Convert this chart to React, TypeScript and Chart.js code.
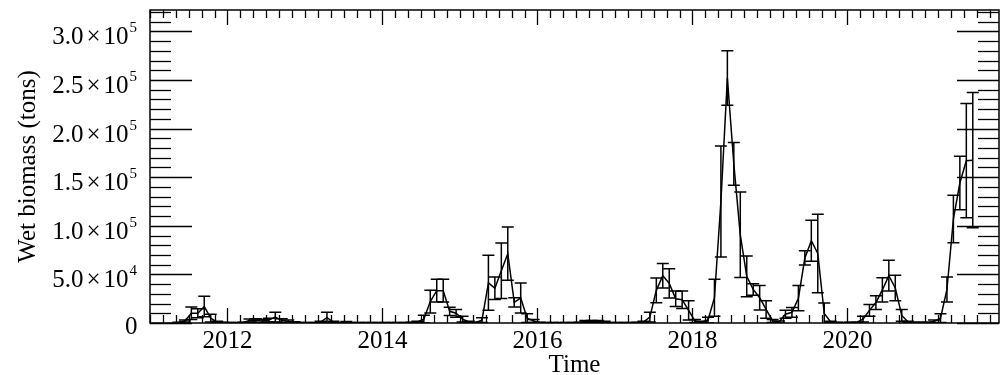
import React, { useEffect, useRef } from 'react';
import { Chart, registerables } from 'chart.js';

Chart.register(...registerables);

// Monthly sampling years (Jan..Dec values, null = no sample)
const years = [2011, 2012, 2013, 2014, 2015, 2016, 2017, 2018, 2019, 2020, 2021];

const biomass2011 = [null, null, null, null, 500, 2000, 10000, 10000, 17000, 5000, 1000, 400];
const sd2011 = [null, null, null, null, 300, 1000, 6500, 4600, 10600, 4000, 800, 300];

const biomass2012 = [300, 300, 500, 2500, 2500, 2000, 3000, 6000, 2500, 1500, 800, 300];
const sd2012 = [200, 200, 400, 1500, 2000, 1500, 2000, 5000, 2000, 1500, 600, 200];

const biomass2013 = [300, 300, 1000, 5500, 1000, 300, 1000, 300, 300, 300, 300, 300];
const sd2013 = [200, 200, 800, 5500, 800, 200, 500, 200, 200, 200, 200, 200];

const biomass2014 = [300, 300, 300, 300, 500, 1000, 4000, 22000, 33300, 33300, 12000, 10000];
const sd2014 = [200, 200, 200, 200, 400, 800, 4000, 11700, 11700, 11700, 4300, 4000];

const biomass2015 = [4000, 1000, 500, 3000, 41300, 35800, 53700, 71300, 21300, 25700, 5000, 2000];
const sd2015 = [3000, 800, 400, 2500, 28300, 11500, 28600, 27400, 4800, 15400, 4500, 1500];

const biomass2016 = [500, 300, 300, 300, 300, 300, 500, 1500, 1500, 1500, 1000, 300];
const sd2016 = [300, 200, 200, 200, 200, 200, 300, 1000, 1000, 1000, 800, 200];

const biomass2017 = [300, 300, 300, 500, 1000, 6000, 33600, 48600, 40800, 25000, 24000, 13000];
const sd2017 = [200, 200, 200, 400, 800, 5000, 12700, 12500, 15000, 8000, 9000, 10000];

const biomass2018 = [2000, 1000, 3000, 26000, 125000, 252000, 163600, 90700, 48000, 34500, 26000, 14000];
const sd2018 = [1500, 800, 3000, 19000, 57000, 28000, 22000, 44000, 21000, 6000, 12500, 9000];

const biomass2019 = [2000, 1000, 9000, 11000, 25500, 67000, 84600, 71500, 9700, 1000, 500, 300];
const sd2019 = [1500, 1000, 4000, 5000, 13000, 7400, 21000, 40300, 11000, 800, 300, 200];

const biomass2020 = [500, 500, 4000, 13000, 21000, 34000, 48700, 36000, 7800, 1000, 500, 500];
const sd2020 = [300, 300, 3000, 6000, 7000, 12500, 15800, 13000, 6000, 800, 300, 300];

const biomass2021 = [500, 1500, 5000, 34500, 107000, 144000, 167000, 167500, null, null, null, null];
const sd2021 = [300, 1500, 4500, 12800, 24500, 27500, 58700, 69500, null, null, null, null];

// Axis tick labels
const yTickValues = [0, 50000, 100000, 150000, 200000, 250000, 300000];
const yTickMantissas = ['0', '5.0', '1.0', '1.5', '2.0', '2.5', '3.0'];
const yTickExponents = ['', '4', '5', '5', '5', '5', '5'];
const xTickYears = [2012, 2014, 2016, 2018, 2020];
const xTickLabels = ['2012', '2014', '2016', '2018', '2020'];

const FONT = '"Liberation Serif", "Times New Roman", Times, serif';

const valuesByYear = [biomass2011, biomass2012, biomass2013, biomass2014, biomass2015, biomass2016,
  biomass2017, biomass2018, biomass2019, biomass2020, biomass2021];
const sdByYear = [sd2011, sd2012, sd2013, sd2014, sd2015, sd2016, sd2017, sd2018, sd2019, sd2020, sd2021];

const points: { x: number; y: number }[] = [];
const errors: number[] = [];
years.forEach((yr, k) => {
  valuesByYear[k].forEach((v, m) => {
    if (v == null) return;
    points.push({ x: yr + (m + 0.4) / 12, y: v });
    errors.push(sdByYear[k][m] ?? 0);
  });
});

const errorBarPlugin = {
  id: 'errorBars',
  afterDatasetsDraw(chart: any) {
    const { ctx, chartArea: a, scales } = chart;
    const xs = scales.x, ys = scales.y;
    ctx.save();
    ctx.beginPath();
    ctx.rect(a.left, a.top, a.right - a.left, a.bottom - a.top);
    ctx.clip();
    ctx.strokeStyle = '#000';
    ctx.lineWidth = 1.5;
    points.forEach((p, i) => {
      const sd = errors[i];
      const px = xs.getPixelForValue(p.x);
      const top = ys.getPixelForValue(p.y + sd);
      const bot = ys.getPixelForValue(p.y - sd);
      ctx.beginPath();
      ctx.moveTo(px, top); ctx.lineTo(px, bot);
      ctx.moveTo(px - 6, top); ctx.lineTo(px + 6, top);
      ctx.moveTo(px - 6, bot); ctx.lineTo(px + 6, bot);
      ctx.stroke();
    });
    ctx.restore();
  },
};

const framePlugin = {
  id: 'frameTicks',
  afterDraw(chart: any) {
    const { ctx, chartArea: a, scales } = chart;
    const xs = scales.x, ys = scales.y;
    ctx.save();
    ctx.strokeStyle = '#000';
    const seg = (x1: number, y1: number, x2: number, y2: number) => {
      ctx.beginPath(); ctx.moveTo(x1, y1); ctx.lineTo(x2, y2); ctx.stroke();
    };
    ctx.lineWidth = 1.3;
    // y ticks (minor every 1e4, major every 5e4), inward on left and right
    for (let v = 0; v <= ys.max + 1; v += 10000) {
      const py = Math.round(ys.getPixelForValue(v)) + 0.5;
      const major = v % 50000 === 0;
      const len = major ? 42 : 21;
      seg(a.left, py, a.left + len, py);
      seg(a.right, py, a.right - len, py);
    }
    // x ticks (minor every 2 months, major every 2 years), inward on bottom and top
    for (let k = Math.ceil(xs.min * 6 - 1e-6); k / 6 <= xs.max + 1e-6; k++) {
      const px = Math.round(xs.getPixelForValue(k / 6)) + 0.5;
      const major = k % 12 === 0;
      const len = major ? 15 : 8;
      seg(px, a.bottom, px, a.bottom - len);
      seg(px, a.top, px, a.top + len);
    }
    ctx.lineWidth = 1.5;
    ctx.strokeRect(a.left, a.top, a.right - a.left, a.bottom - a.top);

    ctx.fillStyle = '#000';
    // x tick labels
    ctx.font = `25px ${FONT}`;
    ctx.textAlign = 'center';
    ctx.textBaseline = 'alphabetic';
    xTickYears.forEach((yr, i) => {
      ctx.fillText(xTickLabels[i], xs.getPixelForValue(yr), a.bottom + 25);
    });
    // y tick labels with superscript exponents: "m×10^e"
    yTickValues.forEach((v, i) => {
      const py = ys.getPixelForValue(v);
      const exp = yTickExponents[i];
      ctx.font = `25px ${FONT}`;
      if (!exp) {
        ctx.textAlign = 'right';
        ctx.fillText(yTickMantissas[i], 137.5, py + 10.5);
      } else {
        ctx.textAlign = 'right';
        const base = py + 13;
        let xr = 128.5;
        ctx.fillText('10', xr, base);
        xr -= ctx.measureText('10').width + 3;
        ctx.fillText('\u00D7', xr, base);
        xr -= ctx.measureText('\u00D7').width + 3;
        ctx.fillText(yTickMantissas[i], xr, base);
        ctx.font = `15px ${FONT}`;
        ctx.textAlign = 'left';
        ctx.fillText(exp, 129.5, py + 1);
      }
    });
    // axis titles
    ctx.font = `25px ${FONT}`;
    ctx.textAlign = 'center';
    ctx.fillText('Time', (a.left + a.right) / 2, 372);
    ctx.save();
    ctx.translate(28, (a.top + a.bottom) / 2);
    ctx.rotate(-Math.PI / 2);
    ctx.textBaseline = 'middle';
    ctx.fillText('Wet biomass (tons)', 0, 0);
    ctx.restore();
    ctx.restore();
  },
};

export default function App() {
  const ref = useRef<HTMLCanvasElement>(null);
  useEffect(() => {
    const chart = new Chart(ref.current as HTMLCanvasElement, {
      type: 'line',
      data: {
        datasets: [{
          data: points,
          borderColor: '#000',
          borderWidth: 1.5,
          pointRadius: 0,
          tension: 0,
          fill: false,
        }],
      },
      options: {
        animation: false,
        responsive: false,
        devicePixelRatio: 1,
        layout: { padding: { left: 150, right: 1, top: 10, bottom: 52 } },
        plugins: { legend: { display: false }, tooltip: { enabled: false } },
        scales: {
          x: { type: 'linear', min: 2011, max: 2021.955, display: false },
          y: { type: 'linear', min: 0, max: 322000, display: false },
        },
      },
      plugins: [errorBarPlugin, framePlugin],
    } as any);
    return () => chart.destroy();
  }, []);
  return (
    <div style={{ position: 'absolute', left: 0, top: 0, width: 1000, height: 375, background: '#fff' }}>
      <canvas ref={ref} width={1000} height={375} style={{ display: 'block' }} />
    </div>
  );
}
